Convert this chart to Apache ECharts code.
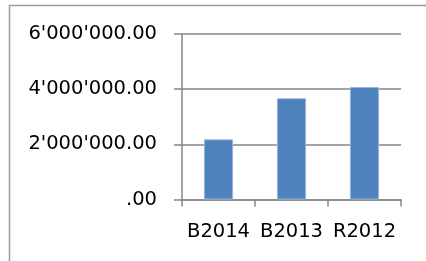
<!DOCTYPE html>
<html>
<head>
<meta charset="utf-8">
<script src="https://cdn.jsdelivr.net/npm/echarts@6/dist/echarts.min.js"></script>
<style>
  html, body { margin: 0; padding: 0; background: #fff; }
  #chart { width: 426px; height: 261px; }
</style>
</head>
<body>
<div id="chart"></div>
<script>
// categories and values
const categories = ['B2014', 'B2013', 'R2012'];
const amounts = [2180000, 3670000, 4080000];
const yTicks = [0, 2000000, 4000000, 6000000];

// 6000000 -> 6'000'000.00, 0 -> .00
function swissFormat(v) {
  if (v === 0) return '.00';
  const s = Math.round(v).toString().replace(/\B(?=(\d{3})+(?!\d))/g, "'");
  return s + '.00';
}

const chart = echarts.init(document.getElementById('chart'));

const option = {
  animation: false,
  textStyle: { fontFamily: 'DejaVu Sans' },
  graphic: [
    {
      type: 'rect',
      shape: { x: 9.5, y: 5.5, width: 440, height: 300 },
      style: { fill: 'none', stroke: '#9c9c9c', lineWidth: 1.5 },
      silent: true
    }
  ],
  grid: { left: 182, right: 25, top: 34, bottom: 61.5 },
  xAxis: {
    type: 'category',
    data: categories,
    axisLine: { lineStyle: { color: '#868686', width: 1.5 } },
    axisTick: { show: true, length: 7, lineStyle: { color: '#868686', width: 1.5 } },
    axisLabel: { color: '#000', fontSize: 19.5, margin: 22, interval: 0, hideOverlap: false }
  },
  yAxis: {
    type: 'value',
    min: yTicks[0],
    max: yTicks[yTicks.length - 1],
    interval: yTicks[1] - yTicks[0],
    axisLine: { show: true, lineStyle: { color: '#868686', width: 1.5 } },
    axisTick: { show: true, length: 8, lineStyle: { color: '#868686', width: 1.5 } },
    splitLine: { lineStyle: { color: '#868686', width: 1.5 } },
    axisLabel: { color: '#000', fontSize: 19.5, margin: 25, formatter: swissFormat }
  },
  series: [
    {
      type: 'bar',
      data: amounts,
      barWidth: '40%',
      itemStyle: { color: '#4f81bd', borderColor: '#9ab7dc', borderWidth: 1 }
    }
  ]
};

chart.setOption(option);
</script>
</body>
</html>
